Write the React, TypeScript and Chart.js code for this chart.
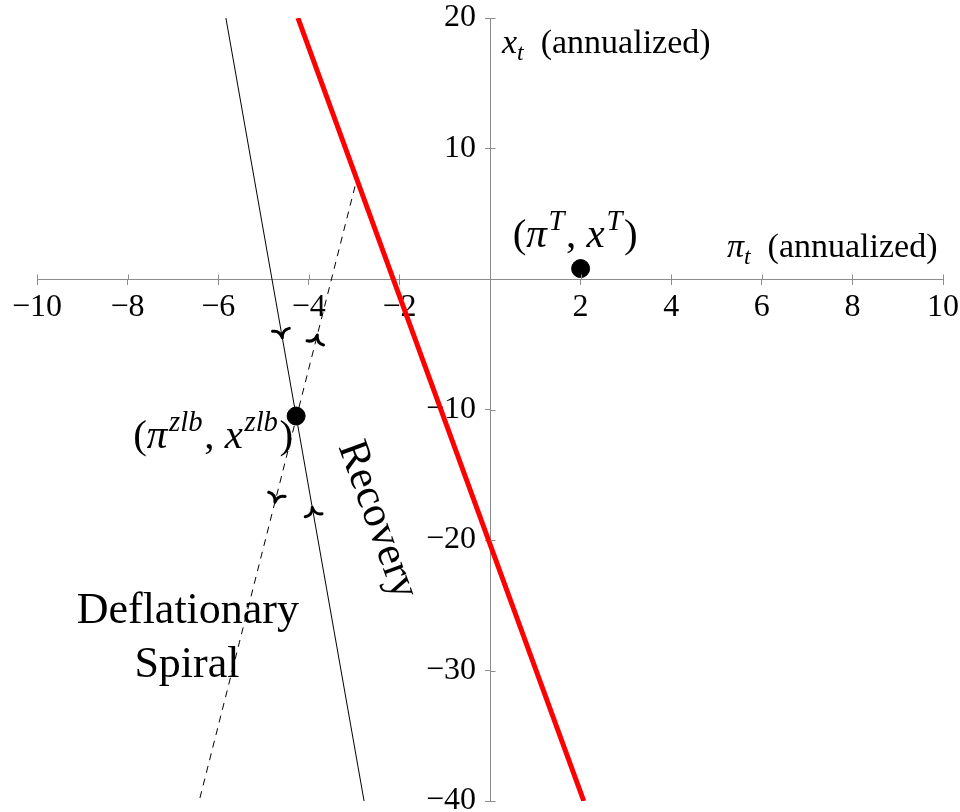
import React, { useEffect, useRef } from 'react';
import { Chart, registerables } from 'chart.js';

Chart.register(...registerables);

// ---------- data ----------
const X_MIN = -10;
const X_MAX = 10;
const X_STEP = 2;
const Y_MIN = -40;
const Y_MAX = 20;
const Y_STEP = 10;

const recoveryX = [-4.24, 2.07];
const recoveryY = [20, -40];
const stableX = [-5.83, -2.78];
const stableY = [20, -40];
const unstableX = [-2.98, -6.42];
const unstableY = [7.1, -40];

const targetPoint = { x: 2, y: 0.8 };
const zlbPoint = { x: -4.28, y: -10.5 };

// arrows: which line, at which y value, pointing toward increasing (+1) or decreasing (-1) y
const arrowLines = ['stable', 'unstable', 'unstable', 'stable'];
const arrowYs = [-4.5, -4.3, -17.1, -17.5];
const arrowDirs = [-1, 1, -1, 1];

const SERIF = '"Liberation Serif", "Times New Roman", serif';

type Seg = { t: string; it?: boolean; sup?: boolean; sub?: boolean };

const fmtTick = (v: number) => (v === 0 ? '' : v < 0 ? '\u2212' + Math.abs(v) : String(v));

function segFont(s: Seg, size: number) {
  const sz = s.sup || s.sub ? size * 0.7 : size;
  return `${s.it ? 'italic ' : ''}${sz}px ${SERIF}`;
}

function drawRich(ctx: CanvasRenderingContext2D, segs: Seg[], x: number, y: number, size: number, align: 'left' | 'center') {
  let w = 0;
  for (const s of segs) {
    ctx.font = segFont(s, size);
    w += ctx.measureText(s.t).width + (s.sup ? size * 0.08 : 0);
  }
  let cx = align === 'center' ? x - w / 2 : x;
  ctx.textAlign = 'left';
  ctx.textBaseline = 'alphabetic';
  for (const s of segs) {
    ctx.font = segFont(s, size);
    const dy = s.sup ? -size * 0.42 : s.sub ? size * 0.22 : 0;
    if (s.sup) cx += size * 0.04;
    ctx.fillText(s.t, cx, y + dy);
    cx += ctx.measureText(s.t).width + (s.sup ? size * 0.04 : 0);
  }
}

const lines: Record<string, { x: number[]; y: number[] }> = {
  recovery: { x: recoveryX, y: recoveryY },
  stable: { x: stableX, y: stableY },
  unstable: { x: unstableX, y: unstableY },
};

function drawChevron(ctx: CanvasRenderingContext2D, tx: number, ty: number, ux: number, uy: number) {
  const d = 8;
  const w = 8.5;
  const px = -uy;
  const py = ux;
  const bx = tx - ux * d;
  const by = ty - uy * d;
  ctx.beginPath();
  ctx.moveTo(bx + px * w, by + py * w);
  ctx.quadraticCurveTo(bx + px * w * 0.15, by + py * w * 0.15, tx, ty);
  ctx.quadraticCurveTo(bx - px * w * 0.15, by - py * w * 0.15, bx - px * w, by - py * w);
  ctx.stroke();
}

const annotationPlugin = {
  id: 'annotations',
  afterDraw(chart: any) {
    const ctx: CanvasRenderingContext2D = chart.ctx;
    const xs = chart.scales.x;
    const ys = chart.scales.y;
    const X = (v: number) => xs.getPixelForValue(v);
    const Y = (v: number) => ys.getPixelForValue(v);
    ctx.save();

    // opposite-side tick marks
    ctx.strokeStyle = '#8c8c8c';
    ctx.lineWidth = 1;
    const ax = Math.round(Y(0)) + 0.5;
    const ay = Math.round(X(0)) + 0.5;
    for (const t of xs.ticks) {
      const p = Math.round(X(t.value)) + 0.5;
      ctx.beginPath();
      ctx.moveTo(p, ax - 5);
      ctx.lineTo(p, ax);
      ctx.stroke();
    }
    for (const t of ys.ticks) {
      const p = Math.round(Y(t.value)) + 0.5;
      ctx.beginPath();
      ctx.moveTo(ay, p);
      ctx.lineTo(ay + 5, p);
      ctx.stroke();
    }

    // arrows
    ctx.strokeStyle = '#000';
    ctx.lineWidth = 3;
    ctx.lineCap = 'round';
    ctx.lineJoin = 'round';
    arrowLines.forEach((name, i) => {
      const L = lines[name];
      const yv = arrowYs[i];
      const f = (yv - L.y[0]) / (L.y[1] - L.y[0]);
      const xv = L.x[0] + f * (L.x[1] - L.x[0]);
      const tx = X(xv);
      const ty = Y(yv);
      let dx = X(L.x[0]) - X(L.x[1]);
      let dy = Y(L.y[0]) - Y(L.y[1]);
      if (L.y[0] < L.y[1]) { dx = -dx; dy = -dy; }
      const n = Math.hypot(dx, dy);
      dx = (dx / n) * arrowDirs[i];
      dy = (dy / n) * arrowDirs[i];
      drawChevron(ctx, tx, ty, dx, dy);
    });

    ctx.fillStyle = '#000';
    // axis titles
    drawRich(ctx, [{ t: 'x', it: true }, { t: 't', it: true, sub: true }, { t: '  (annualized)' }], X(0.265), Y(17.32), 34, 'left');
    drawRich(ctx, [{ t: '\u03C0', it: true }, { t: 't', it: true, sub: true }, { t: '  (annualized)' }], X(5.23), Y(1.69), 34, 'left');

    // point labels
    drawRich(ctx, [
      { t: '(' }, { t: '\u03C0', it: true }, { t: 'T', it: true, sup: true }, { t: ', ' },
      { t: 'x', it: true }, { t: 'T', it: true, sup: true }, { t: ')' },
    ], X(1.88), Y(2.45), 41, 'center');
    drawRich(ctx, [
      { t: '(' }, { t: '\u03C0', it: true }, { t: 'zlb', it: true, sup: true }, { t: ', ' },
      { t: 'x', it: true }, { t: 'zlb', it: true, sup: true }, { t: ')' },
    ], X(-6.11), Y(-12.95), 41, 'center');

    // Deflationary Spiral
    ctx.font = `44px ${SERIF}`;
    ctx.textAlign = 'center';
    ctx.textBaseline = 'alphabetic';
    ctx.fillText('Deflationary', X(-6.67), Y(-26.36));
    ctx.fillText('Spiral', X(-6.69), Y(-30.5));

    // Recovery (parallel to the recovery line)
    const ang = Math.atan2(Y(recoveryY[1]) - Y(recoveryY[0]), X(recoveryX[1]) - X(recoveryX[0]));
    ctx.save();
    ctx.translate(X(-2.49), Y(-18.47));
    ctx.rotate(ang);
    ctx.font = `43px ${SERIF}`;
    ctx.textAlign = 'center';
    ctx.textBaseline = 'middle';
    ctx.fillText('Recovery', 0, 0);
    ctx.restore();

    ctx.restore();
  },
};

const zeroPadding = (scale: any) => {
  scale.paddingTop = 0;
  scale.paddingBottom = 0;
  scale.paddingLeft = 0;
  scale.paddingRight = 0;
};

export default function App() {
  const ref = useRef<HTMLCanvasElement | null>(null);

  useEffect(() => {
    if (!ref.current) return;
    const toPts = (xs: number[], ys: number[]) => xs.map((x, i) => ({ x, y: ys[i] }));
    const chart = new Chart(ref.current, {
      type: 'scatter',
      data: {
        datasets: [
          {
            label: 'points',
            data: [targetPoint, zlbPoint],
            pointRadius: 9,
            pointBackgroundColor: '#000',
            pointBorderColor: '#000',
            showLine: false,
            order: 0,
          },
          {
            label: 'recovery',
            data: toPts(recoveryX, recoveryY),
            showLine: true,
            borderColor: '#ff0000',
            borderWidth: 5,
            pointRadius: 0,
            order: 3,
          },
          {
            label: 'stable',
            data: toPts(stableX, stableY),
            showLine: true,
            borderColor: '#000',
            borderWidth: 1,
            pointRadius: 0,
            order: 2,
          },
          {
            label: 'unstable',
            data: toPts(unstableX, unstableY),
            showLine: true,
            borderColor: '#000',
            borderWidth: 1,
            borderDash: [7, 6],
            pointRadius: 0,
            order: 1,
          },
        ],
      },
      options: {
        responsive: false,
        animation: false,
        layout: { padding: { left: 37, right: 17, top: 18, bottom: 11 } },
        plugins: { legend: { display: false }, tooltip: { enabled: false } },
        scales: {
          x: {
            type: 'linear',
            min: X_MIN,
            max: X_MAX,
            position: { y: 0 },
            afterFit: zeroPadding,
            grid: { drawOnChartArea: false, drawTicks: true, tickLength: 5, color: '#8c8c8c' },
            border: { color: '#8c8c8c', width: 1 },
            ticks: {
              stepSize: X_STEP,
              autoSkip: false,
              maxRotation: 0,
              padding: 4,
              color: '#000',
              font: { family: SERIF, size: 32 },
              callback: (v: any) => fmtTick(Number(v)),
            },
          },
          y: {
            type: 'linear',
            min: Y_MIN,
            max: Y_MAX,
            position: { x: 0 },
            afterFit: zeroPadding,
            grid: { drawOnChartArea: false, drawTicks: true, tickLength: 5, color: '#8c8c8c' },
            border: { color: '#8c8c8c', width: 1 },
            ticks: {
              stepSize: Y_STEP,
              autoSkip: false,
              display: false,
            },
          },
          yLabels: {
            type: 'linear',
            axis: 'y',
            min: Y_MIN,
            max: Y_MAX,
            position: { x: -0.31 },
            afterFit: zeroPadding,
            grid: { display: false, drawTicks: false },
            border: { display: false },
            ticks: {
              stepSize: Y_STEP,
              autoSkip: false,
              padding: 0,
              color: '#000',
              font: { family: SERIF, size: 32 },
              callback: (v: any) => fmtTick(Number(v)),
            },
          },
        },
      },
      plugins: [annotationPlugin],
    });
    return () => chart.destroy();
  }, []);

  return (
    <div style={{ position: 'fixed', left: 0, top: 0, width: 960, height: 812, background: '#fff' }}>
      <canvas ref={ref} width={960} height={812} style={{ display: 'block' }} />
    </div>
  );
}
